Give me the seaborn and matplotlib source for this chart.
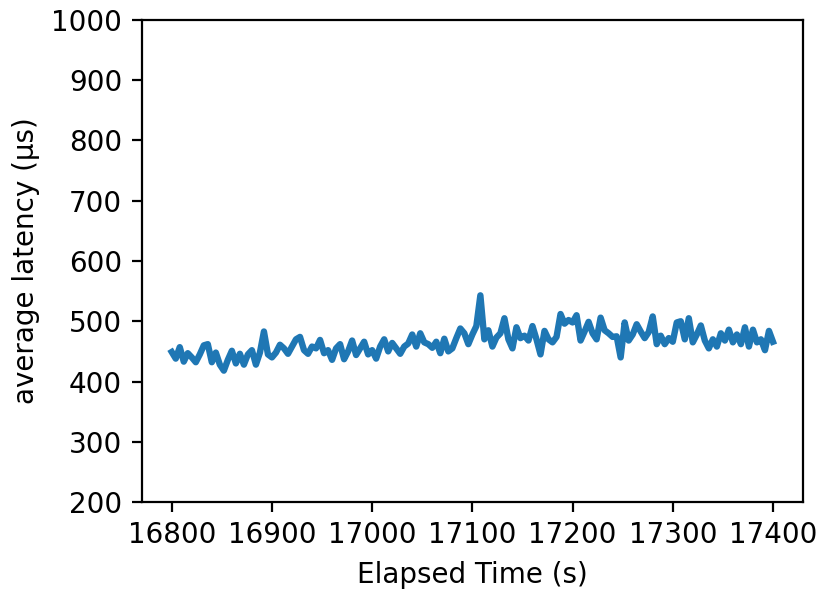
import numpy as np
import pandas as pd
import seaborn as sns
import matplotlib
matplotlib.use("Agg")
import matplotlib.pyplot as plt

# elapsed time in seconds, one sample every 4 s
elapsed = np.arange(16800, 17401, 4)

# average latency (us)
latency = [
    449, 438, 457, 433, 447, 440, 432, 445, 460, 462,
    432, 448, 428, 418, 436, 451, 430, 446, 428, 445,
    452, 428, 448, 483, 445,
    440, 448, 461, 455, 446, 458, 470, 474, 452, 446,
    458, 455, 469, 447, 452, 436, 455, 462, 437, 450,
    468, 444, 455, 466, 445,
    452, 438, 458, 470, 450, 464, 455, 446, 458, 463,
    478, 458, 480, 465, 462, 456, 466, 447, 471, 450,
    455, 472, 488, 480, 462,
    478, 492, 543, 470, 485, 458, 473, 480, 505, 470,
    455, 490, 472, 476, 468, 492, 470, 445, 484, 470,
    465, 474, 512, 496, 502,
    498, 510, 468, 483, 499, 480, 470, 506, 485, 480,
    474, 475, 440, 498, 468, 478, 495, 483, 472, 482,
    508, 462, 476, 462, 472,
    466, 498, 500, 470, 505, 465, 478, 493, 468, 455,
    470, 458, 480, 468, 486, 465, 478, 462, 490, 458,
    486, 465, 470, 452, 484, 466,
]

df = pd.DataFrame({"elapsed": elapsed, "latency": latency})

fig = plt.figure(figsize=(4.15, 2.99), dpi=200)
ax = fig.add_axes([0.1707, 0.1605, 0.7968, 0.8061])

sns.lineplot(data=df, x="elapsed", y="latency", ax=ax, color="#1f77b4", linewidth=2.3)

ax.set_ylim(200, 1000)
ax.set_yticks(range(200, 1001, 100))
ax.set_xticks(range(16800, 17401, 100))
ax.set_xlabel("Elapsed Time (s)")
ax.set_ylabel("average latency (µs)")

fig.savefig("out.png", dpi=200)
